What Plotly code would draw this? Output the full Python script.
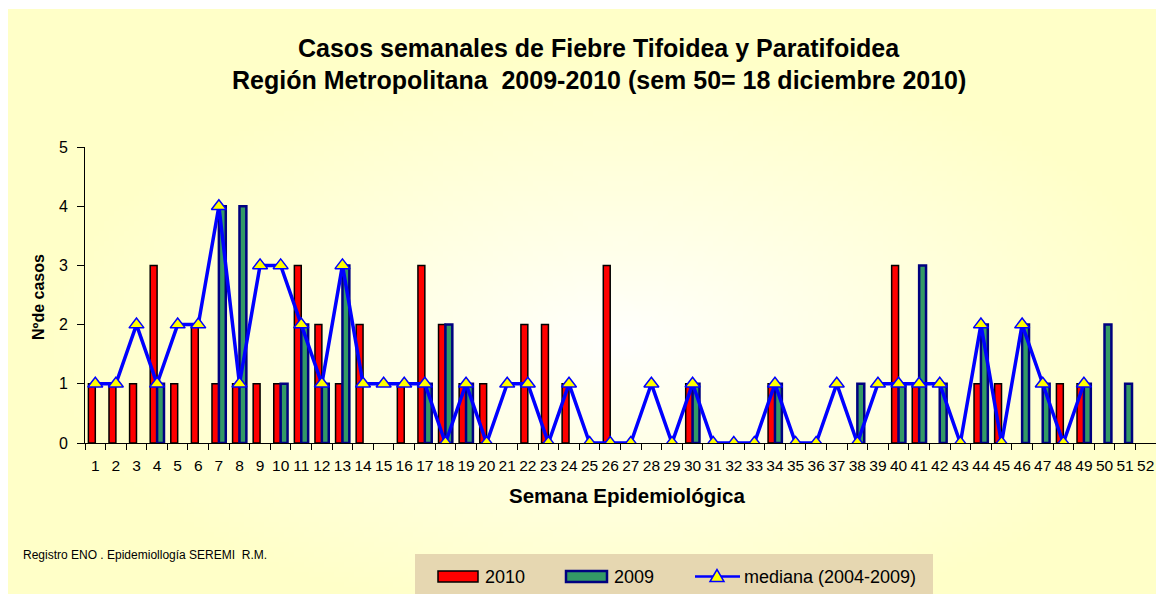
import zlib, struct, base64
import numpy as np
import plotly.graph_objects as go

weeks = [str(i) for i in range(1, 53)]
cases_2010 = [1,1,1,3,1,2,1,1,1,1, 3,2,1,2,0,1,3,2,1,1,
              0,2,2,1,0,3,0,0,0,1, 0,0,0,1,0,0,0,0,0,3,
              1,0,0,1,1,0,0,1,1,0, None,None]
cases_2009 = [0,0,0,1,0,0,4,4,0,1, 2,1,3,0,0,0,1,2,1,0,
              0,0,0,0,0,0,0,0,0,1, 0,0,0,1,0,0,0,1,0,1,
              3,1,0,2,0,2,1,0,1,2, 1,0]
mediana = [1,1,2,1,2,2,4,1,3,3, 2,1,3,1,1,1,1,0,1,0,
           1,1,0,1,0,0,0,1,0,1, 0,0,0,1,0,0,1,0,1,1,
           1,1,0,2,0,2,1,0,1, None,None,None]
y_ticks = [0, 1, 2, 3, 4, 5]
series_names = ["2010", "2009", "mediana (2004-2009)"]

FONT = "Liberation Sans, Arial, sans-serif"
OFF = 8  # page body margin: page px = figure px + OFF
FW, FH = 1164 - OFF, 594 - OFF

# plot area in page px
PL, PR, PT, PB = 85, 1156, 147, 443
pw, ph = PR - PL, PB - PT
def px_x(x):
    return (x - PL) / pw
def px_y(y):
    return (PB - y) / ph

# --- background radial gradient (decoration) ---
W, H = 232, 117
L, T = OFF - 1, OFF + 1
CW, CH = 1164 - L, 594 - T
xs = L + (np.arange(W) + 0.5) * CW / W
ys = T + (np.arange(H) + 0.5) * CH / H
X, Y = np.meshgrid(xs, ys)
d = np.sqrt(((X - 620) / 580.0) ** 2 + ((Y - 340) / 290.0) ** 2)
t = np.clip(d, 0, 1) ** 0.85
arr = np.zeros((H, W, 3), dtype=np.uint8)
arr[..., 0] = 255
arr[..., 1] = 255
arr[..., 2] = (255 - 55 * t).astype(np.uint8)

def _chunk(tp, data):
    return struct.pack(">I", len(data)) + tp + data + struct.pack(">I", zlib.crc32(tp + data) & 0xffffffff)

raw = b"".join(b"\x00" + arr[j].tobytes() for j in range(H))
png = (b"\x89PNG\r\n\x1a\n" + _chunk(b"IHDR", struct.pack(">IIBBBBB", W, H, 8, 2, 0, 0, 0))
       + _chunk(b"IDAT", zlib.compress(raw, 9)) + _chunk(b"IEND", b""))
img_src = "data:image/png;base64," + base64.b64encode(png).decode()

def lw(vals, w):
    return [0 if (v is None or v == 0) else w for v in vals]

fig = go.Figure()
fig.add_trace(go.Bar(
    x=weeks, y=cases_2010, name=series_names[0],
    marker=dict(color="#FF0000", line=dict(color="#000000", width=lw(cases_2010, 1.5))),
))
fig.add_trace(go.Bar(
    x=weeks, y=cases_2009, name=series_names[1],
    marker=dict(color="#339966", line=dict(color="#000080", width=lw(cases_2009, 2.5))),
))
fig.add_trace(go.Scatter(
    x=weeks, y=mediana, name=series_names[2], mode="lines+markers",
    line=dict(color="#0000FF", width=3.5),
    marker=dict(symbol="triangle-up", size=13, color="#FFFF00",
                line=dict(color="#0000FF", width=1.5)),
))

# custom legend (page px)
LY0, LY1 = 571, 582
LYC = (LY0 + LY1) / 2
tri_x, tri_w, tri_h = 717, 14, 12
tri_path = "M {:.5f} {:.5f} L {:.5f} {:.5f} L {:.5f} {:.5f} Z".format(
    px_x(tri_x - tri_w / 2), px_y(LYC + 5), px_x(tri_x + tri_w / 2), px_y(LYC + 5),
    px_x(tri_x), px_y(LYC + 5 - tri_h))

shapes = [
    dict(type="rect", xref="paper", yref="paper",
         x0=px_x(415), x1=px_x(933), y0=px_y(594), y1=px_y(554),
         fillcolor="#E6D7B1", line=dict(width=0), layer="below"),
    dict(type="rect", xref="paper", yref="paper",
         x0=px_x(438), x1=px_x(478), y0=px_y(LY1), y1=px_y(LY0),
         fillcolor="#FF0000", line=dict(color="#000000", width=1.5)),
    dict(type="rect", xref="paper", yref="paper",
         x0=px_x(566), x1=px_x(607), y0=px_y(LY1), y1=px_y(LY0),
         fillcolor="#339966", line=dict(color="#000080", width=2.5)),
    dict(type="line", xref="paper", yref="paper",
         x0=px_x(695), x1=px_x(740), y0=px_y(LYC), y1=px_y(LYC),
         line=dict(color="#0000FF", width=2.5)),
    dict(type="path", xref="paper", yref="paper", path=tri_path,
         fillcolor="#FFFF00", line=dict(color="#0000FF", width=1.5)),
]

annotations = [
    dict(text="<b>Casos semanales de Fiebre Tifoidea y Paratifoidea</b>",
         xref="paper", yref="paper", x=px_x(599), y=px_y(48),
         showarrow=False, font=dict(size=25, family=FONT), xanchor="center", yanchor="middle"),
    dict(text="<b>Región Metropolitana  2009-2010 (sem 50= 18 diciembre 2010)</b>",
         xref="paper", yref="paper", x=px_x(599), y=px_y(80),
         showarrow=False, font=dict(size=25, family=FONT), xanchor="center", yanchor="middle"),
    dict(text="Registro ENO . Epidemiollogía SEREMI  R.M.",
         xref="paper", yref="paper", x=px_x(21), y=px_y(555),
         showarrow=False, font=dict(size=12, family=FONT), xanchor="left", yanchor="middle"),
    dict(text=series_names[0], xref="paper", yref="paper", x=px_x(483), y=px_y(LYC),
         showarrow=False, font=dict(size=18, family=FONT), xanchor="left", yanchor="middle"),
    dict(text=series_names[1], xref="paper", yref="paper", x=px_x(612), y=px_y(LYC),
         showarrow=False, font=dict(size=18, family=FONT), xanchor="left", yanchor="middle"),
    dict(text=series_names[2], xref="paper", yref="paper", x=px_x(742), y=px_y(LYC),
         showarrow=False, font=dict(size=18, family=FONT), xanchor="left", yanchor="middle"),
    dict(text="<b>Semana Epidemiológica</b>", xref="paper", yref="paper",
         x=px_x(627), y=px_y(495), showarrow=False,
         font=dict(size=20.5, family=FONT), xanchor="center", yanchor="middle"),
    dict(text="<b>Nºde casos</b>", xref="paper", yref="paper",
         x=px_x(38), y=px_y(297), showarrow=False, textangle=-90,
         font=dict(size=16, family=FONT), xanchor="center", yanchor="middle"),
]

fig.update_layout(
    width=FW, height=FH,
    margin=dict(l=PL - OFF, r=FW - (PR - OFF), t=PT - OFF, b=FH - (PB - OFF)),
    paper_bgcolor="#FFFFFF",
    plot_bgcolor="rgba(0,0,0,0)",
    barmode="group", bargap=0.33, bargroupgap=0.0,
    font=dict(family=FONT, color="#000000", size=15),
    showlegend=False,
    images=[dict(source=img_src, xref="paper", yref="paper",
                 x=px_x(L), y=px_y(T), sizex=CW / pw, sizey=CH / ph,
                 xanchor="left", yanchor="top", sizing="stretch", layer="below")],
    shapes=shapes,
    annotations=annotations,
)

fig.update_xaxes(
    type="category", categoryorder="array", categoryarray=weeks,
    range=[-0.5, len(weeks) - 0.5], tickangle=0,
    showline=True, linecolor="#000000", linewidth=1,
    ticks="outside", tickson="boundaries", ticklen=6, tickcolor="#000000",
    ticklabelstandoff=8,
    tickfont=dict(size=15.5, family=FONT), showgrid=False, zeroline=False,
    automargin=False,
)
fig.update_yaxes(
    range=[0, 5], tickvals=y_ticks, showline=True, linecolor="#000000", linewidth=1,
    ticks="outside", ticklen=7, tickcolor="#000000", ticklabelstandoff=6,
    tickfont=dict(size=16, family=FONT), showgrid=False, zeroline=False,
    automargin=False,
)

fig.write_html("out.html")
